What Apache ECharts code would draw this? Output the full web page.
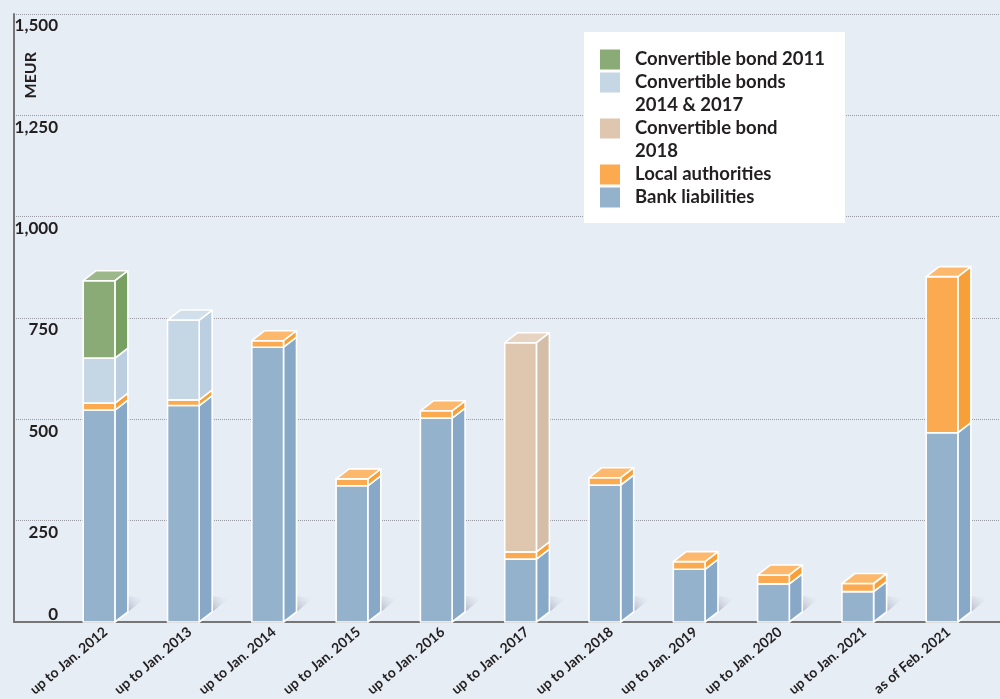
<!DOCTYPE html>
<html><head><meta charset="utf-8">
<script src="https://cdn.jsdelivr.net/npm/echarts@6/dist/echarts.min.js"></script>
<style>html,body{margin:0;padding:0;background:#e6edf5}#c{width:1000px;height:699px}</style>
</head><body><div id="c"></div>
<script>
// ---- data ----
const categories = ['up to Jan. 2012','up to Jan. 2013','up to Jan. 2014','up to Jan. 2015','up to Jan. 2016','up to Jan. 2017','up to Jan. 2018','up to Jan. 2019','up to Jan. 2020','up to Jan. 2021','as of Feb. 2021'];
const bankLiabilities  = [523, 534, 678, 336, 503, 155, 338, 130, 94, 75, 467];
const localAuthorities = [17, 14, 16, 17, 18, 18, 18, 19, 22, 20, 385];
const convBonds1417    = [111, 197, 0, 0, 0, 0, 0, 0, 0, 0, 0];
const convBond2011     = [191, 0, 0, 0, 0, 0, 0, 0, 0, 0, 0];
const convBond2018     = [0, 0, 0, 0, 0, 516, 0, 0, 0, 0, 0];
const yMin = 0, yMax = 1500, yStep = 250;

const seriesNames = ['Bank liabilities','Local authorities','Convertible bonds 2014 & 2017','Convertible bond 2011','Convertible bond 2018'];
const seriesValues = [bankLiabilities, localAuthorities, convBonds1417, convBond2011, convBond2018];
const legendOrder = ['Convertible bond 2011','Convertible bonds 2014 & 2017','Convertible bond 2018','Local authorities','Bank liabilities'];
const legendLabels = {
  'Convertible bond 2011':'Convertible bond 2011',
  'Convertible bonds 2014 & 2017':'Convertible bonds\n2014 & 2017',
  'Convertible bond 2018':'Convertible bond\n2018',
  'Local authorities':'Local authorities',
  'Bank liabilities':'Bank liabilities'
};

// ---- styles ----
const FONT = "Lato,'Noto Sans',sans-serif";
const TXT = '#231f20';
const palette = [
  {front:'#94b2cc', side:'#87a8c6', top:'#a6c0d6'},
  {front:'#fbaa50', side:'#f8a038', top:'#fcb96e'},
  {front:'#c5d6e5', side:'#bccfe0', top:'#d1dfeb'},
  {front:'#8aaa76', side:'#79a063', top:'#9cb789'},
  {front:'#dfc6af', side:'#d5bea7', top:'#e6d3c1'}
];
const ICON_ONE = 'path://M0,0h20v20h-20z';
const ICON_TWO = 'path://M0,0h20v20h-20z M0,42.99h20v0.01h-20z';

// stacked segments built from the arrays
const cum = categories.map(() => 0);
const segData = seriesValues.map(() => []);
seriesValues.forEach((vals, s) => {
  vals.forEach((v, i) => {
    if (v > 0) {
      let isTop = 1;
      for (let k = s + 1; k < seriesValues.length; k++) if (seriesValues[k][i] > 0) isTop = 0;
      segData[s].push([i, cum[i], cum[i] + v, isTop, cum[i] === 0 ? 1 : 0]);
      cum[i] += v;
    }
  });
});

function renderItem(params, api) {
  const cat = api.value(0), lo = api.value(1), hi = api.value(2);
  const isTop = api.value(3), isBase = api.value(4);
  const p0 = api.coord([cat, lo]), p1 = api.coord([cat, hi]);
  const band = api.size([1, 0])[0];
  const w = band * 0.376, dx = band * 0.154, dy = 10;
  const xl = p0[0] - (w + dx) / 2, xr = xl + w;
  const yb = p0[1], yt = p1[1];
  const c = palette[params.seriesIndex];
  const st = {stroke:'#ffffff', lineWidth:1.6, lineJoin:'round'};
  const ch = [];
  if (isBase) {
    ch.push({type:'polygon', silent:true, shape:{points:[[xr+dx, yb-dy],[xr+dx+17, yb-dy-14],[xr+dx, yb-dy-16]]},
      style:{fill:{type:'linear', x:0, y:1, x2:1, y2:0, colorStops:[{offset:0,color:'rgba(150,150,170,0.65)'},{offset:1,color:'rgba(230,237,245,0)'}]}}});
  }
  ch.push({type:'polygon', shape:{points:[[xr,yt],[xr+dx,yt-dy],[xr+dx,yb-dy],[xr,yb]]}, style:Object.assign({fill:c.side}, st)});
  ch.push({type:'rect', shape:{x:xl, y:yt, width:w, height:yb-yt}, style:Object.assign({fill:c.front}, st)});
  if (isTop) {
    ch.push({type:'polygon', shape:{points:[[xl,yt],[xl+dx,yt-dy],[xr+dx,yt-dy],[xr,yt]]}, style:Object.assign({fill:c.top}, st)});
  }
  return {type:'group', children:ch};
}

const chart = echarts.init(document.getElementById('c'), null, {renderer:'canvas'});
chart.setOption({
  backgroundColor:'#e6edf5',
  animation:false,
  textStyle:{fontFamily:FONT},
  grid:[
    {left:14, right:0, top:14, bottom:77, outerBoundsMode:'none', containLabel:false},
    {left:63.4, right:9.3, top:14, bottom:77, outerBoundsMode:'none', containLabel:false}
  ],
  xAxis:[
    {gridIndex:0, type:'value', min:0, max:1, show:true,
     axisLine:{show:true, onZero:false, lineStyle:{color:'#767676', width:2}},
     axisTick:{show:false}, axisLabel:{show:false}, splitLine:{show:false}},
    {gridIndex:1, type:'category', data:categories, boundaryGap:true,
     axisLine:{show:false}, axisTick:{show:false},
     axisLabel:{interval:0, rotate:40, margin:8, fontFamily:FONT, fontWeight:'bold', fontSize:14, color:TXT}}
  ],
  yAxis:[
    {gridIndex:0, type:'value', min:yMin, max:yMax, interval:yStep,
     axisLine:{show:true, lineStyle:{color:'#767676', width:2}},
     axisTick:{show:false},
     splitLine:{show:true, lineStyle:{color:'#9a9aa2', type:'dotted', width:1}},
     axisLabel:{inside:true, align:'right', margin:44, verticalAlign:'middle',
       formatter:function(v){ const t = v.toLocaleString('en-US'); return v === 0 ? '{z|' + t + '}' : '{n|' + t + '}'; },
       rich:{
         n:{fontFamily:FONT, fontWeight:'bold', fontSize:17, color:TXT, lineHeight:18, padding:[24,0,0,0]},
         z:{fontFamily:FONT, fontWeight:'bold', fontSize:17, color:TXT, lineHeight:18, padding:[0,0,14,0]}
       }}},
    {gridIndex:1, type:'value', min:yMin, max:yMax, interval:yStep, show:false, splitLine:{show:false}}
  ],
  legend:{
    orient:'vertical', left:584, top:32, padding:[16,20,14,16],
    backgroundColor:'#ffffff', borderWidth:0,
    itemWidth:20, itemHeight:43, itemGap:0,
    selectedMode:false,
    textStyle:{fontFamily:FONT, fontWeight:'bold', fontSize:18.5, lineHeight:23, color:TXT, padding:[0,0,0,10]},
    formatter:function(n){ return legendLabels[n]; },
    data:legendOrder.map(function(n){
      return {name:n, icon: legendLabels[n].indexOf('\n') >= 0 ? ICON_TWO : ICON_ONE};
    })
  },
  graphic:[
    {type:'text', left:23, top:52, rotation:Math.PI/2,
     style:{text:'MEUR', fontFamily:FONT, fontWeight:'bold', fontSize:16, fill:TXT}}
  ],
  series:seriesNames.map(function(name, s){
    return {
      name:name, type:'custom', xAxisIndex:1, yAxisIndex:1,
      renderItem:renderItem,
      itemStyle:{color:palette[s].front},
      encode:{x:0, y:[1,2]},
      data:segData[s]
    };
  })
});
</script></body></html>
